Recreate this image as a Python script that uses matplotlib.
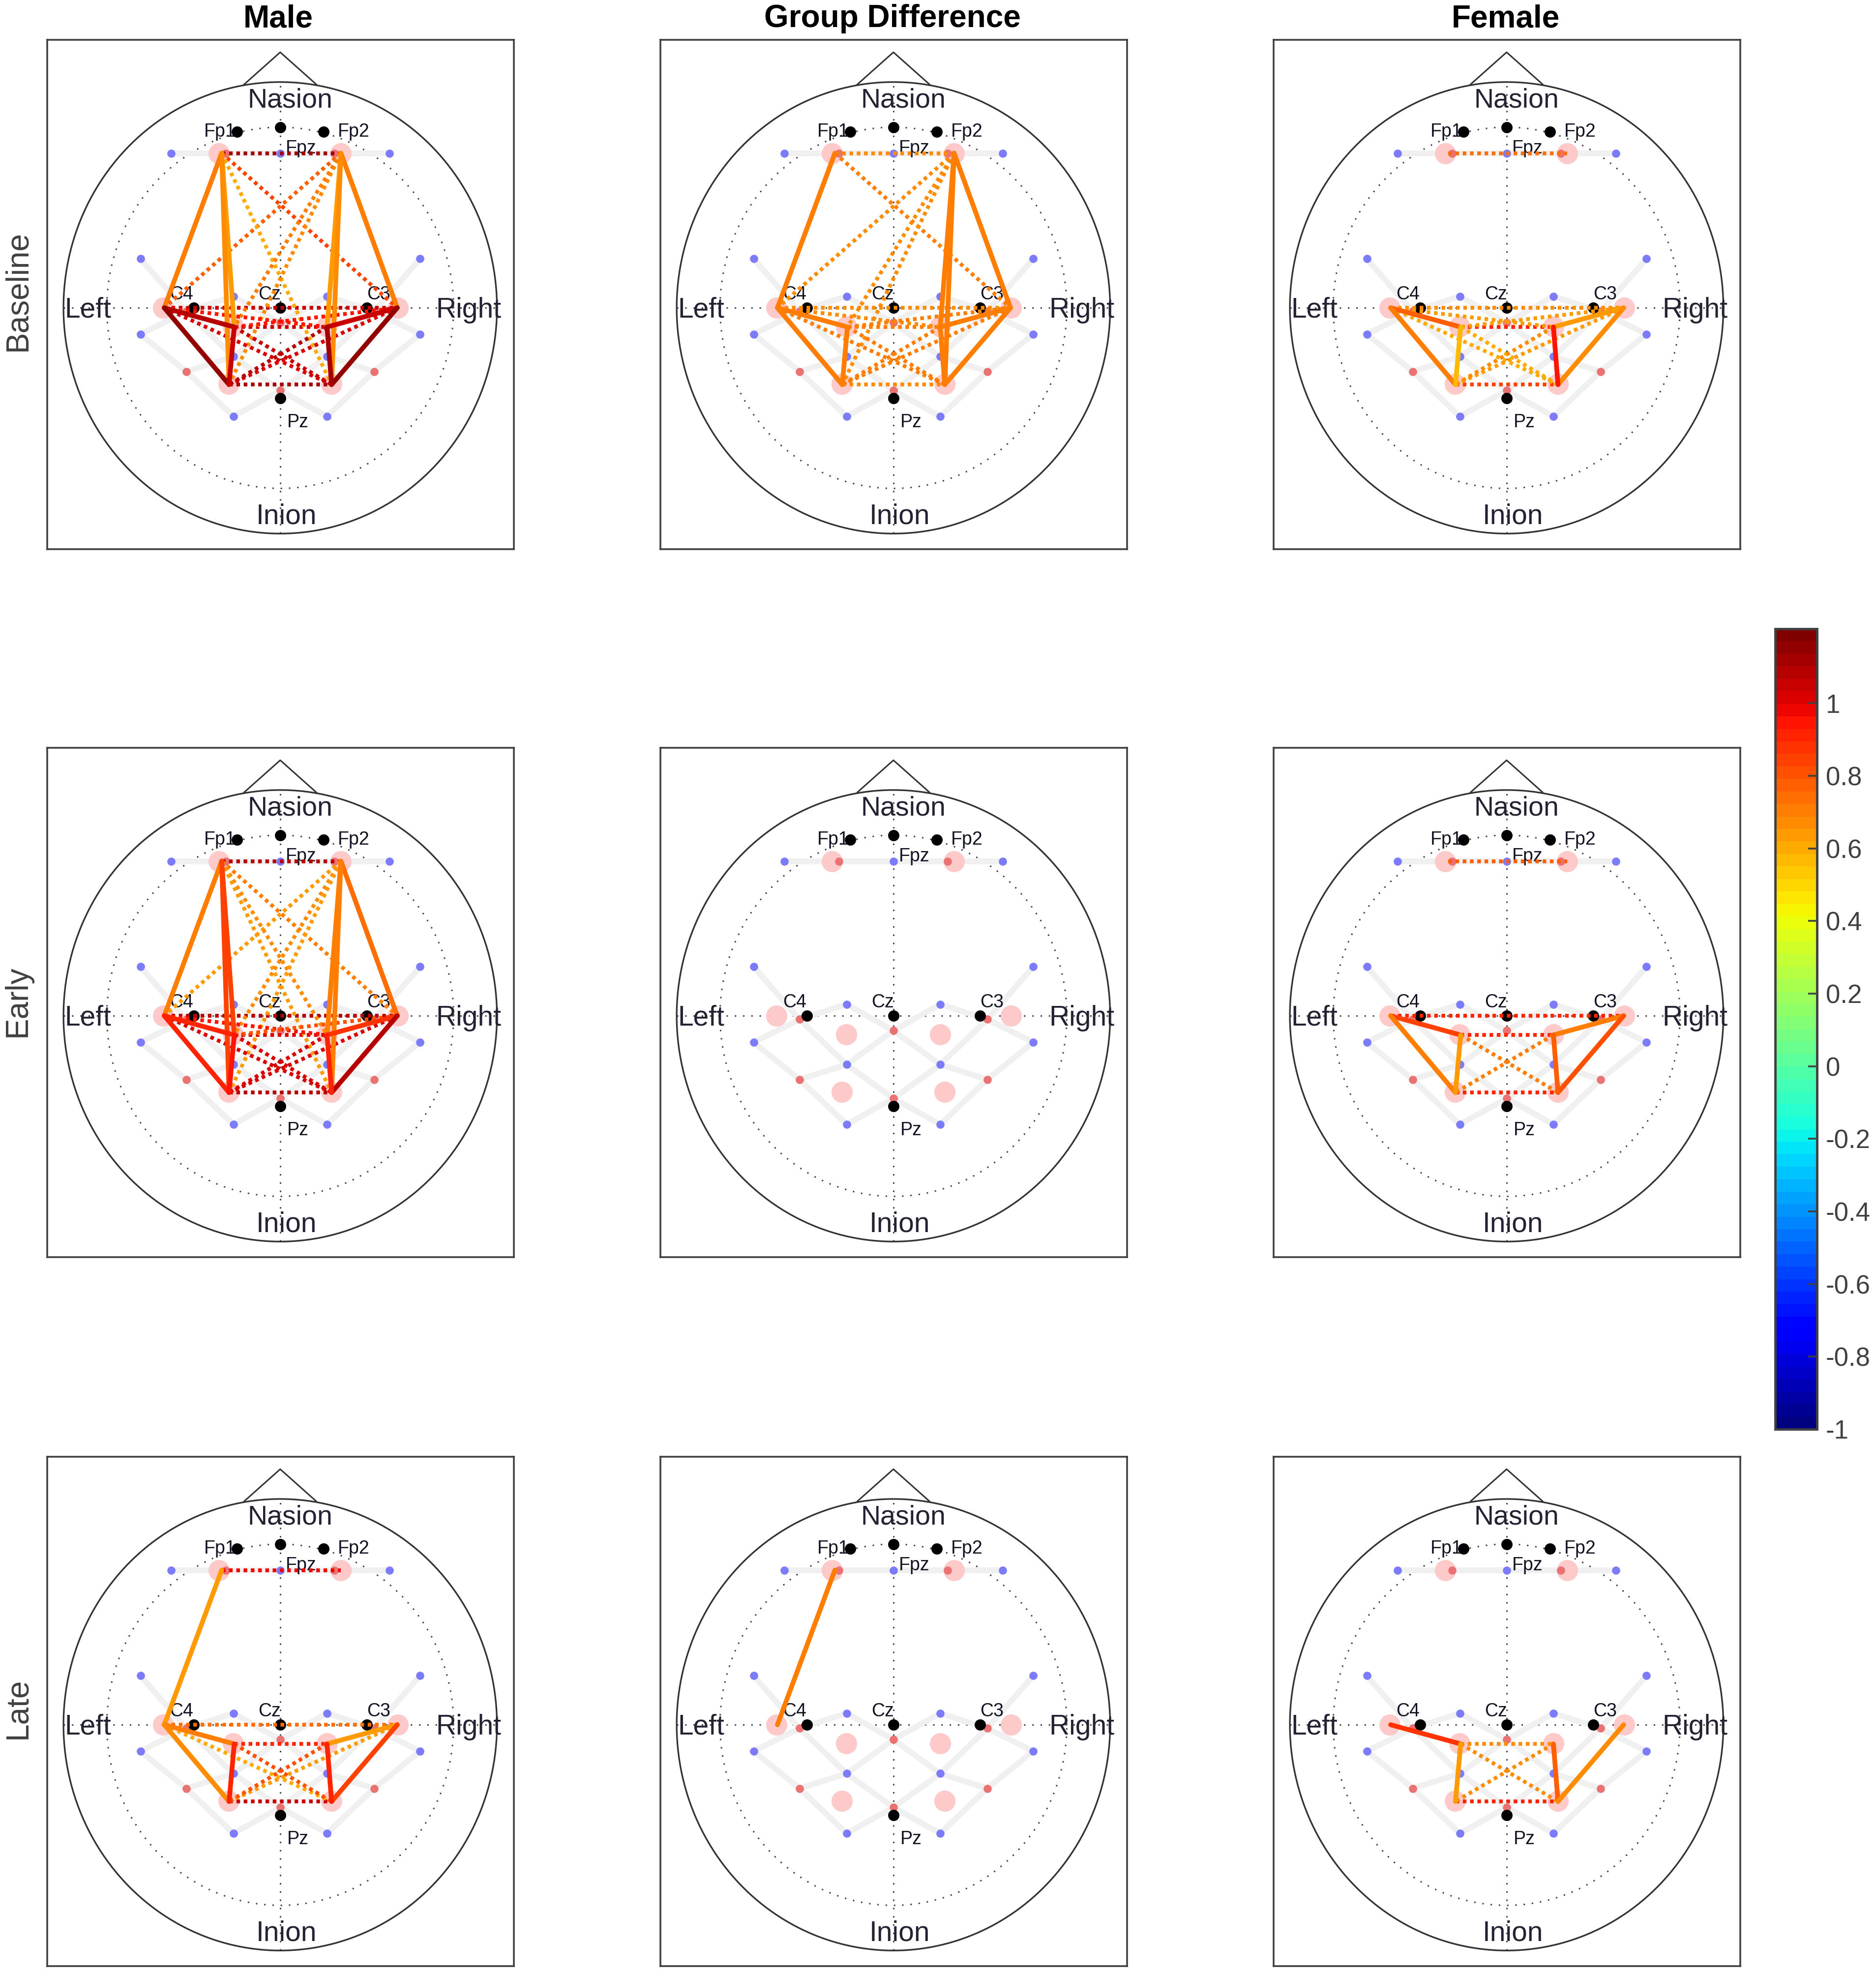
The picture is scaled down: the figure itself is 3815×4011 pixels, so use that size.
import numpy as np
from matplotlib import pyplot as plt
from matplotlib.cm import ScalarMappable
from matplotlib.colors import Normalize

plt.rcParams['font.family'] = ['Liberation Sans', 'DejaVu Sans']

W, H = 3815, 4011

col_titles = ['Male', 'Group Difference', 'Female']
row_titles = ['Baseline', 'Early', 'Late']

# channel positions on the head, radius 1 = outline
ref_names = ['Fp1', 'Fpz', 'Fp2', 'C4', 'Cz', 'C3', 'Pz']
ref_x = [-0.20, 0.0, 0.20, -0.40, 0.0, 0.40, 0.0]
ref_y = [0.78, 0.80, 0.78, 0.0, 0.0, 0.0, -0.40]

blue_x = [-0.504, 0.0, 0.504, -0.645, 0.645, -0.216, 0.216, -0.645, 0.645, -0.216, 0.216, -0.216, 0.216]
blue_y = [0.685, 0.685, 0.685, 0.217, 0.217, 0.051, 0.051, -0.117, -0.117, -0.216, -0.216, -0.481, -0.481]
red_x = [-0.251, 0.251, -0.433, 0.433, 0.0, -0.433, 0.433, 0.0]
red_y = [0.685, 0.685, -0.016, -0.016, -0.066, -0.282, -0.282, -0.366]
pink_x = [-0.284, 0.279, -0.539, 0.542, -0.217, 0.217, -0.238, 0.237]
pink_y = [0.685, 0.685, 0.0, 0.0, -0.082, -0.082, -0.337, -0.337]

# grey scaffold, as paths through the grid
path_front = [(-0.504, 0.685), (0.504, 0.685)]
path_a = [(-0.645, 0.217), (-0.433, -0.016), (-0.216, -0.216), (0.0, -0.366), (0.216, -0.481), (0.433, -0.282), (0.645, -0.117),
          (0.433, -0.016), (0.216, 0.051), (0.0, -0.066), (-0.216, -0.216), (-0.433, -0.282), (-0.645, -0.117), (-0.433, -0.016),
          (-0.216, 0.051), (0.0, -0.066), (0.216, -0.216), (0.433, -0.282)]
path_b = [(0.645, 0.217), (0.433, -0.016), (0.216, -0.216), (0.0, -0.366), (-0.216, -0.481), (-0.433, -0.282)]

# end points of the connections
nodes = {'A': (-0.27, 0.685), 'B': (0.28, 0.685), 'C': (-0.535, 0.0), 'D': (0.54, 0.0),
         'E': (-0.212, -0.085), 'F': (0.216, -0.085), 'G': (-0.236, -0.34), 'H': (0.237, -0.34)}

male_base_solid = [('A', 'C', 0.72), ('A', 'E', 0.62), ('A', 'G', 0.66), ('B', 'D', 0.72), ('B', 'F', 0.62), ('B', 'H', 0.66),
                   ('C', 'E', 1.1), ('C', 'G', 1.17), ('E', 'G', 1.05), ('D', 'F', 1.05), ('D', 'H', 1.17), ('F', 'H', 1.12)]
male_base_dots = [('A', 'B', 1.12), ('C', 'D', 1.05), ('E', 'F', 1.05), ('G', 'H', 1.13), ('A', 'D', 0.85), ('B', 'C', 0.78),
                  ('A', 'H', 0.6), ('B', 'G', 0.67), ('B', 'E', 0.72), ('C', 'F', 0.95), ('D', 'E', 0.95), ('C', 'H', 1.0),
                  ('D', 'G', 1.0), ('E', 'H', 1.05), ('F', 'G', 1.1)]
diff_base_solid = [('A', 'C', 0.7), ('B', 'D', 0.7), ('B', 'F', 0.7), ('B', 'H', 0.7), ('C', 'E', 0.72), ('C', 'G', 0.72),
                   ('E', 'G', 0.72), ('D', 'F', 0.72), ('D', 'H', 0.7), ('F', 'H', 0.72)]
diff_base_dots = [('A', 'B', 0.66), ('C', 'D', 0.66), ('E', 'F', 0.7), ('G', 'H', 0.66), ('A', 'D', 0.7), ('B', 'C', 0.68),
                  ('B', 'G', 0.68), ('B', 'E', 0.68), ('C', 'F', 0.68), ('D', 'E', 0.7), ('C', 'H', 0.7), ('D', 'G', 0.7),
                  ('E', 'H', 0.7), ('F', 'G', 0.7)]
female_base_solid = [('C', 'E', 0.78), ('C', 'G', 0.72), ('E', 'G', 0.58), ('D', 'F', 0.62), ('D', 'H', 0.66), ('F', 'H', 0.93)]
female_base_dots = [('A', 'B', 0.75), ('C', 'D', 0.68), ('E', 'F', 0.9), ('G', 'H', 0.85), ('C', 'F', 0.65), ('D', 'E', 0.62),
                    ('C', 'H', 0.6), ('D', 'G', 0.64), ('E', 'H', 0.6), ('F', 'G', 0.67)]

male_early_solid = [('A', 'C', 0.72), ('A', 'E', 0.85), ('A', 'G', 0.85), ('B', 'D', 0.75), ('B', 'F', 0.72), ('B', 'H', 0.72),
                    ('C', 'E', 0.92), ('C', 'G', 0.9), ('E', 'G', 0.95), ('D', 'F', 0.87), ('D', 'H', 1.08), ('F', 'H', 0.9)]
male_early_dots = [('A', 'B', 1.1), ('C', 'D', 1.1), ('E', 'F', 1.0), ('G', 'H', 1.1), ('A', 'D', 0.72), ('B', 'C', 0.62),
                   ('A', 'F', 0.68), ('A', 'H', 0.62), ('B', 'E', 0.68), ('B', 'G', 0.62), ('C', 'F', 0.95), ('D', 'E', 0.8),
                   ('C', 'H', 1.03), ('D', 'G', 1.03), ('E', 'H', 1.03), ('F', 'G', 1.0)]
diff_early_solid = []
diff_early_dots = []
female_early_solid = [('C', 'E', 0.85), ('C', 'G', 0.72), ('E', 'G', 0.64), ('D', 'F', 0.7), ('D', 'H', 0.82), ('F', 'H', 0.78)]
female_early_dots = [('A', 'B', 0.78), ('C', 'D', 0.9), ('E', 'F', 0.9), ('G', 'H', 0.9), ('E', 'H', 0.7), ('F', 'G', 0.7)]

male_late_solid = [('A', 'C', 0.62), ('C', 'E', 0.7), ('C', 'G', 0.68), ('E', 'G', 0.9), ('D', 'F', 0.64), ('D', 'H', 0.83), ('F', 'H', 0.9)]
male_late_dots = [('A', 'B', 0.97), ('C', 'D', 0.75), ('E', 'F', 0.92), ('G', 'H', 1.05), ('C', 'H', 0.6), ('D', 'G', 0.62),
                  ('E', 'H', 0.8), ('F', 'G', 0.8)]
diff_late_solid = [('A', 'C', 0.72)]
diff_late_dots = []
female_late_solid = [('C', 'E', 0.88), ('E', 'G', 0.62), ('F', 'H', 0.77), ('D', 'H', 0.66)]
female_late_dots = [('E', 'F', 0.66), ('G', 'H', 0.9), ('E', 'H', 0.66), ('F', 'G', 0.66)]

panel_solid = [[male_base_solid, diff_base_solid, female_base_solid],
               [male_early_solid, diff_early_solid, female_early_solid],
               [male_late_solid, diff_late_solid, female_late_solid]]
panel_dots = [[male_base_dots, diff_base_dots, female_base_dots],
              [male_early_dots, diff_early_dots, female_early_dots],
              [male_late_dots, diff_late_dots, female_late_dots]]

cbar_ticks = [1, 0.8, 0.6, 0.4, 0.2, 0, -0.2, -0.4, -0.6, -0.8, -1]
cbar_labels = ['1', '0.8', '0.6', '0.4', '0.2', '0', '-0.2', '-0.4', '-0.6', '-0.8', '-1']

cmap = plt.get_cmap('jet', 64)
norm = Normalize(-1, 1.205)


def px_axes(fig, left, top, width, height):
    return fig.add_axes([left / W, 1 - (top + height) / H, width / W, height / H])


def draw_head(ax, solid, dots):
    t = np.linspace(0, 2 * np.pi, 400)

    # dotted guides
    dot = (0, (1, 4.5))
    ax.plot(0.8 * np.cos(t), 0.8 * np.sin(t), color='#444444', lw=2.2, ls=dot, zorder=1)
    ax.plot([-1, 1], [0, 0], color='#444444', lw=2.2, ls=dot, zorder=1)
    ax.plot([0, 0], [-1, 1], color='#444444', lw=2.2, ls=dot, zorder=1)

    # outline and nose
    ax.plot(np.cos(t), np.sin(t), color='#333333', lw=2.4, zorder=2)
    ax.plot([-0.166, 0, 0.166], [0.99, 1.132, 0.99], color='#333333', lw=2.2, zorder=2)

    for path in (path_front, path_a, path_b):
        xs, ys = zip(*path)
        ax.plot(xs, ys, color='#f0f0f0', lw=8.5, solid_joinstyle='miter', zorder=3)

    ax.plot(pink_x, pink_y, 'o', color='#fdc9c9', ms=31, mew=0, zorder=4)
    ax.plot(blue_x, blue_y, 'o', color='#7c7cfa', ms=12, mew=0, zorder=5)
    ax.plot(red_x, red_y, 'o', color='#ea7272', ms=12, mew=0, zorder=5)
    ax.plot(ref_x, ref_y, 'o', color='black', ms=16.5, mew=0, zorder=6)

    ax.text(0.045, 0.918, 'Nasion', fontsize=40, color='#222233', ha='center', va='center', zorder=7)
    ax.text(0.028, -0.925, 'Inion', fontsize=41, color='#222233', ha='center', va='center', zorder=7)
    ax.text(-0.887, -0.01, 'Left', fontsize=41, color='#222233', ha='center', va='center', zorder=7)
    ax.text(0.87, -0.01, 'Right', fontsize=41, color='#222233', ha='center', va='center', zorder=7)
    ax.text(-0.277, 0.78, 'Fp1', fontsize=27, color='#111122', ha='center', va='center', zorder=7)
    ax.text(0.34, 0.78, 'Fp2', fontsize=27, color='#111122', ha='center', va='center', zorder=7)
    ax.text(0.095, 0.705, 'Fpz', fontsize=27, color='#111122', ha='center', va='center', zorder=7)
    ax.text(-0.455, 0.06, 'C4', fontsize=27, color='#111122', ha='center', va='center', zorder=7)
    ax.text(-0.05, 0.06, 'Cz', fontsize=27, color='#111122', ha='center', va='center', zorder=7)
    ax.text(0.454, 0.06, 'C3', fontsize=27, color='#111122', ha='center', va='center', zorder=7)
    ax.text(0.081, -0.508, 'Pz', fontsize=27, color='#111122', ha='center', va='center', zorder=7)

    for a, b, val in dots:
        ax.plot([nodes[a][0], nodes[b][0]], [nodes[a][1], nodes[b][1]], color=cmap(norm(val)), lw=5.6,
                ls=(0, (0.95, 0.95)), dash_capstyle='butt', zorder=8)
    for a, b, val in solid:
        ax.plot([nodes[a][0], nodes[b][0]], [nodes[a][1], nodes[b][1]], color=cmap(norm(val)), lw=7,
                solid_capstyle='round', zorder=9)

    ax.set_xlim(-1.075, 1.078)
    ax.set_ylim(-1.069, 1.187)
    ax.set_xticks([])
    ax.set_yticks([])
    for spine in ax.spines.values():
        spine.set_color('#404040')
        spine.set_linewidth(2.6)


fig = plt.figure(figsize=(W / 100, H / 100), dpi=100, facecolor='white')

lefts = [96, 1343, 2590]
tops = [81, 1521, 2963]
for r in range(3):
    for c in range(3):
        ax = px_axes(fig, lefts[c], tops[r], 949, 1036)
        draw_head(ax, panel_solid[r][c], panel_dots[r][c])

title_x = [566, 1815, 3062]
for x, name in zip(title_x, col_titles):
    fig.text(x / W, 1 - 38 / H, name, fontsize=46, fontweight='bold', color='black', ha='center', va='center')

label_y = [592, 2036, 3475]
for y, name in zip(label_y, row_titles):
    fig.text(36 / W, 1 - y / H, name, fontsize=46, color='#404040', rotation=90, ha='center', va='center')

cax = px_axes(fig, 3610, 1279, 85, 1628)
cb = fig.colorbar(ScalarMappable(norm=norm, cmap=cmap), cax=cax)
cb.set_ticks(cbar_ticks)
cb.set_ticklabels(cbar_labels)
cb.ax.tick_params(direction='in', length=13, width=2.6, color='#404040', labelcolor='#404040', labelsize=38, pad=13)
cb.outline.set_edgecolor('#404040')
cb.outline.set_linewidth(3.5)

fig.savefig('out.png', dpi=100)
